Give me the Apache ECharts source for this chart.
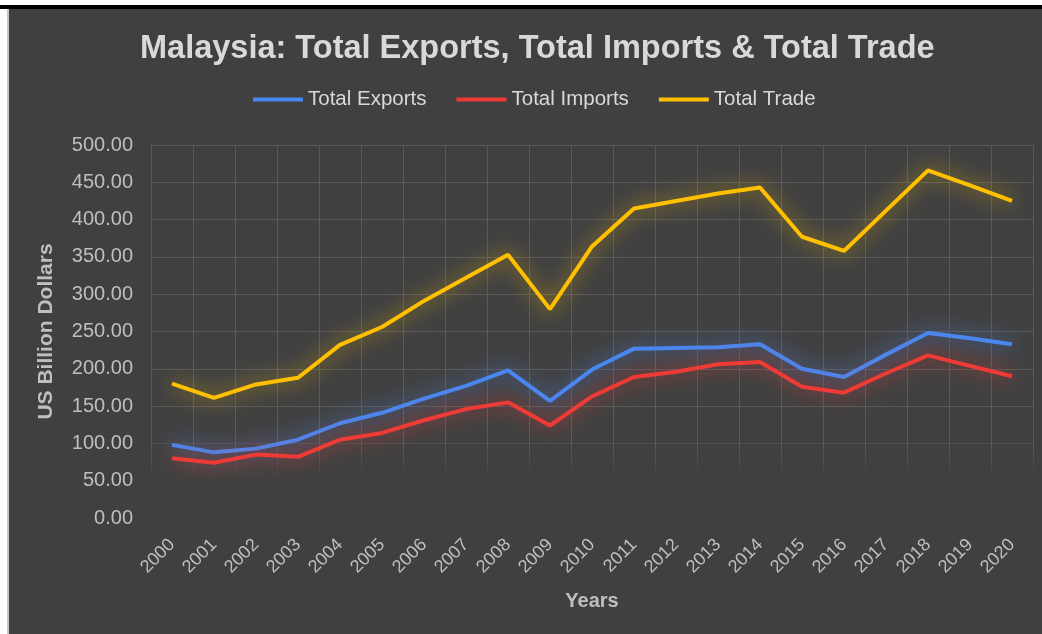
<!DOCTYPE html>
<html>
<head>
<meta charset="utf-8">
<script src="https://cdn.jsdelivr.net/npm/echarts@6/dist/echarts.min.js"></script>
<style>
  html, body { margin: 0; padding: 0; background: #ffffff; width: 1042px; height: 634px; overflow: hidden; }
  #topbar { position: absolute; left: 0; top: 5px; width: 1042px; height: 4px; background: #000; }
  #leftstrip { position: absolute; left: 7px; top: 9px; width: 2px; height: 625px; background: #c8c8c8; }
  #chart { position: absolute; left: 9px; top: 9px; width: 1033px; height: 625px; }
</style>
</head>
<body>
<div id="topbar"></div>
<div id="leftstrip"></div>
<div id="chart"></div>
<script>
const years = ['2000','2001','2002','2003','2004','2005','2006','2007','2008','2009','2010',
               '2011','2012','2013','2014','2015','2016','2017','2018','2019','2020'];
const totalExports = [98, 88, 93, 105, 127, 141, 160, 177, 198, 157, 199,
                      227, 228, 229, 233, 200, 189, 219, 248, 241, 233];
const totalImports = [80, 74, 85, 82, 105, 114, 131, 146, 155, 124, 163,
                      189, 196, 206, 209, 176, 168, 194, 218, 204, 190];
const totalTrade = [180, 161, 179, 188, 232, 256, 291, 322, 353, 280, 364,
                    415, 425, 435, 443, 377, 358, 412, 466, 446, 425];

const chart = echarts.init(document.getElementById('chart'));
const FONT = '"Liberation Sans", Arial, sans-serif';
const GRID = '#595959';

function lineSeries(name, data, color, glow) {
  return {
    name: name, type: 'line', data: data,
    symbol: 'none', smooth: false,
    lineStyle: { color: color, width: 4, shadowBlur: 20, shadowColor: glow },
    itemStyle: { color: color },
    emphasis: { disabled: true }
  };
}

chart.setOption({
  backgroundColor: '#404040',
  animation: false,
  textStyle: { fontFamily: FONT },
  title: {
    text: 'Malaysia: Total Exports, Total Imports & Total Trade',
    left: 126, top: 19,
    textStyle: { color: '#d9d9d9', fontSize: 32.5, fontWeight: 'bold', fontFamily: FONT }
  },
  legend: {
    top: 75, left: 239,
    itemWidth: 50, itemHeight: 4, itemGap: 30,
    icon: 'rect',
    textStyle: { color: '#d9d9d9', fontSize: 20.5, fontFamily: FONT },
    data: ['Total Exports', 'Total Imports', 'Total Trade']
  },
  grid: { left: 142, right: 9, top: 136, bottom: 116, containLabel: false },
  xAxis: {
    type: 'category', data: years, boundaryGap: true,
    name: 'Years', nameLocation: 'middle', nameGap: 73,
    nameTextStyle: { color: '#bfbfbf', fontSize: 20, fontWeight: 'bold', fontFamily: FONT },
    axisLine: { show: false }, axisTick: { show: false },
    axisLabel: { color: '#bfbfbf', fontSize: 18, rotate: 45, margin: 24, interval: 0, fontFamily: FONT },
    splitLine: {
      show: true,
      lineStyle: {
        width: 1,
        color: { type: 'linear', x: 0, y: 136, x2: 0, y2: 509, global: true,
          colorStops: [ { offset: 0, color: GRID }, { offset: 0.8, color: GRID },
                        { offset: 0.9, color: 'rgba(89,89,89,0)' }, { offset: 1, color: 'rgba(89,89,89,0)' } ] }
      }
    }
  },
  yAxis: {
    type: 'value', min: 0, max: 500, interval: 50,
    name: 'US Billion Dollars', nameLocation: 'middle', nameGap: 94, nameRotate: 90,
    nameTextStyle: { color: '#bfbfbf', fontSize: 21, fontWeight: 'bold', fontFamily: FONT },
    axisLine: { show: false }, axisTick: { show: false },
    axisLabel: { color: '#bfbfbf', fontSize: 20, margin: 18, fontFamily: FONT,
                 formatter: v => v.toFixed(2) },
    splitLine: {
      show: true,
      lineStyle: { width: 1, color: ['rgba(89,89,89,0)', 'rgba(89,89,89,0)', 'rgba(89,89,89,0.6)',
                                     GRID, GRID, GRID, GRID, GRID, GRID, GRID, GRID] }
    }
  },
  series: [
    lineSeries('Total Exports', totalExports, '#4a86f0', 'rgba(74,134,240,0.9)'),
    lineSeries('Total Imports', totalImports, '#ee3b35', 'rgba(238,59,53,0.9)'),
    lineSeries('Total Trade', totalTrade, '#ffc000', 'rgba(255,192,0,0.8)')
  ]
});
</script>
</body>
</html>
